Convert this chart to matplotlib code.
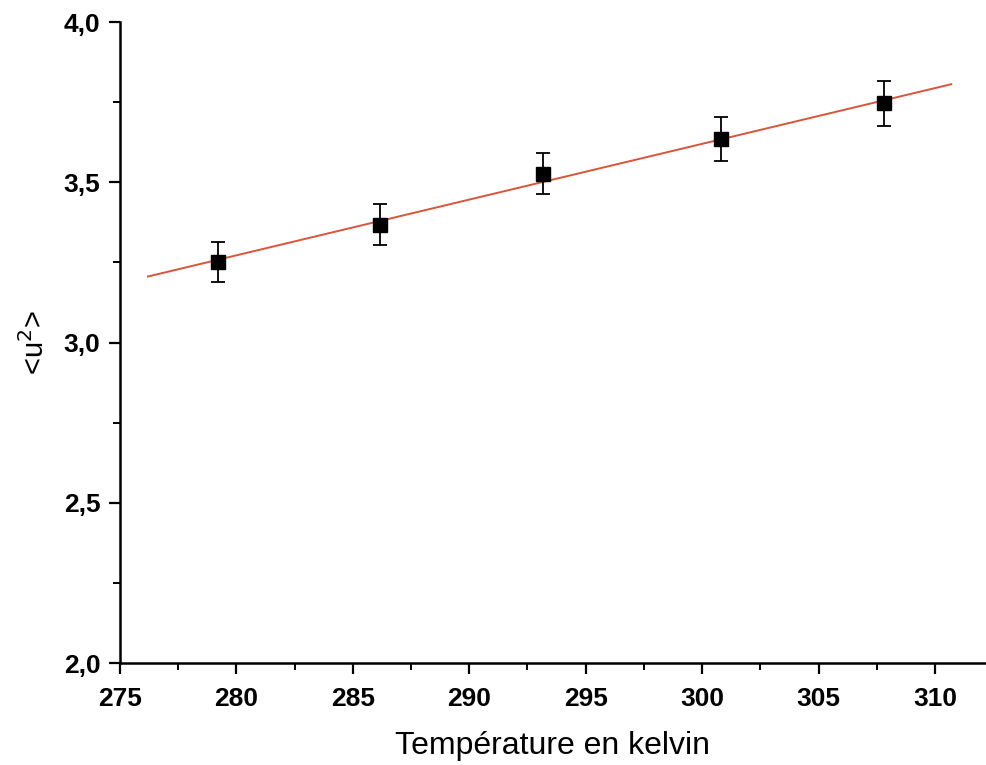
import matplotlib
matplotlib.use('Agg')
import matplotlib.pyplot as plt
from matplotlib.ticker import MultipleLocator, FuncFormatter

# mesures
temperature = [279.2, 286.17, 293.16, 300.82, 307.83]
u2 = [3.251, 3.368, 3.527, 3.636, 3.746]
u2_err = [0.063, 0.065, 0.063, 0.069, 0.069]

# droite d'ajustement (extremites)
fit_x = [276.2, 310.7]
fit_y = [3.206, 3.806]

plt.rcParams['font.family'] = ['Liberation Sans', 'DejaVu Sans']

fig = plt.figure(figsize=(9.86, 7.65), dpi=100)
ax = fig.add_axes([0.1217, 0.1333, 0.8773, 0.8379])

ax.plot(fit_x, fit_y, color='#d9553a', linewidth=1.4, zorder=2)
ax.errorbar(temperature, u2, yerr=u2_err, fmt='s', color='black', markersize=9.5,
            ecolor='black', elinewidth=1.3, capsize=5, capthick=1.3, zorder=3)

ax.set_xlim(275, 312.15)
ax.set_ylim(2.0, 4.0)

ax.xaxis.set_major_locator(MultipleLocator(5))
ax.xaxis.set_minor_locator(MultipleLocator(2.5))
ax.yaxis.set_major_locator(MultipleLocator(0.5))
ax.yaxis.set_minor_locator(MultipleLocator(0.25))
ax.yaxis.set_major_formatter(FuncFormatter(lambda v, p: ('%.1f' % v).replace('.', ',')))

for side in ['top', 'right']:
    ax.spines[side].set_visible(False)
for side in ['left', 'bottom']:
    ax.spines[side].set_linewidth(1.8)

ax.tick_params(which='major', direction='out', length=8, width=1.6, labelsize=19)
ax.tick_params(which='minor', direction='out', length=5, width=1.4)
ax.tick_params(axis='x', which='major', pad=9)
ax.tick_params(axis='y', which='major', pad=6)
for lbl in ax.get_xticklabels() + ax.get_yticklabels():
    lbl.set_fontweight('bold')

ax.set_xlabel('Température en kelvin', fontsize=23, labelpad=15)
ax.set_ylabel('<u$^2$>', fontsize=21, labelpad=10)

plt.savefig('out.png', dpi=100)
